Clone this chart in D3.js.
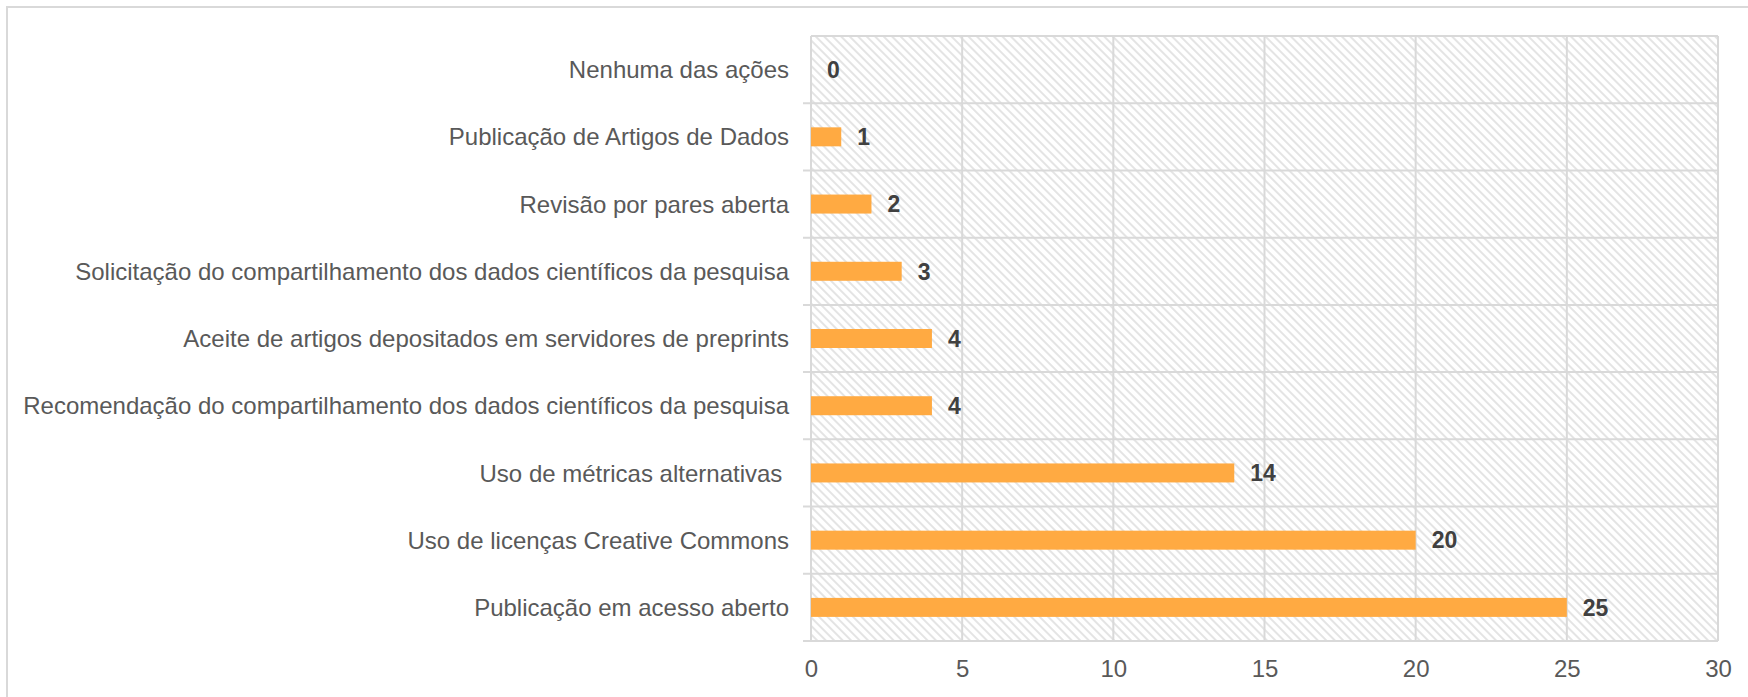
<!DOCTYPE html>
<html>
<head>
<meta charset="utf-8">
<script src="https://cdn.jsdelivr.net/npm/d3@7"></script>
<style>
  body { margin: 0; background: #fff; }
  svg { display: block; font-family: "Liberation Sans", Arial, sans-serif; }
  text { white-space: pre; }
</style>
</head>
<body>
<svg id="grafico"></svg>
<script>
const categorias = [
  'Nenhuma das ações',
  'Publicação de Artigos de Dados',
  'Revisão por pares aberta',
  'Solicitação do compartilhamento dos dados científicos da pesquisa',
  'Aceite de artigos depositados em servidores de preprints',
  'Recomendação do compartilhamento dos dados científicos da pesquisa',
  'Uso de métricas alternativas ',
  'Uso de licenças Creative Commons',
  'Publicação em acesso aberto'
];
const valores = [0, 1, 2, 3, 4, 4, 14, 20, 25];
const ticksX = [0, 5, 10, 15, 20, 25, 30];

const largura = 1748, altura = 697;
const margem = { esquerda: 811, direita: 30, superior: 36, inferior: 56 };
const larguraPlotagem = largura - margem.esquerda - margem.direita;
const alturaPlotagem = altura - margem.superior - margem.inferior;
const cinza = '#d9d9d9';
const fonte = '"Liberation Sans", Arial, sans-serif';

const svg = d3.select('#grafico').attr('width', largura).attr('height', altura);

// listras diagonais do fundo
const padrao = svg.append('defs').append('pattern')
  .attr('id', 'listras')
  .attr('patternUnits', 'userSpaceOnUse')
  .attr('width', 6).attr('height', 6)
  .attr('patternTransform', 'rotate(45)');
padrao.append('rect').attr('width', 6).attr('height', 6).attr('fill', '#fff');
padrao.append('line')
  .attr('x1', 0).attr('y1', 3).attr('x2', 6).attr('y2', 3)
  .attr('stroke', '#dedede').attr('stroke-width', 1.6);

// borda externa
svg.append('rect')
  .attr('x', 7).attr('y', 7)
  .attr('width', largura).attr('height', altura)
  .attr('fill', 'none').attr('stroke', cinza).attr('stroke-width', 2);

const plotagem = svg.append('g').attr('transform', `translate(${margem.esquerda}, ${margem.superior})`);

const x = d3.scaleLinear().domain([0, 30]).range([0, larguraPlotagem]);
const y = d3.scaleBand().domain(categorias).range([0, alturaPlotagem]);

plotagem.append('rect')
  .attr('width', larguraPlotagem).attr('height', alturaPlotagem)
  .attr('fill', 'url(#listras)');

// grade vertical
plotagem.append('g')
  .selectAll('line')
  .data(ticksX)
  .enter()
  .append('line')
  .attr('x1', d => x(d)).attr('x2', d => x(d))
  .attr('y1', 0).attr('y2', alturaPlotagem)
  .attr('stroke', cinza).attr('stroke-width', 2);

// linhas entre categorias (com marca para fora)
const limites = categorias.map(c => y(c)).concat([alturaPlotagem]);
plotagem.append('g')
  .selectAll('line')
  .data(limites)
  .enter()
  .append('line')
  .attr('x1', (d, i) => i === 0 ? 0 : -8).attr('x2', larguraPlotagem)
  .attr('y1', d => d).attr('y2', d => d)
  .attr('stroke', cinza).attr('stroke-width', 2);

// eixo x
const eixoX = d3.axisBottom(x).tickValues(ticksX).tickSize(0).tickPadding(19);
const gX = plotagem.append('g')
  .attr('transform', 'translate(0, ' + alturaPlotagem + ')')
  .call(eixoX);
gX.select('.domain').remove();
gX.selectAll('text')
  .attr('fill', '#595959')
  .style('font-size', '24px')
  .style('font-family', fonte);

// eixo y
const eixoY = d3.axisLeft(y).tickSize(0).tickPadding(22);
const gY = plotagem.append('g').call(eixoY);
gY.select('.domain').remove();
gY.selectAll('text')
  .attr('dy', '0.36em')
  .attr('fill', '#595959')
  .style('font-size', '24px')
  .style('font-family', fonte);

const espessura = 19;
const dados = categorias.map((c, i) => ({ chave: c, valor: valores[i] }));

plotagem.selectAll('.barra')
  .data(dados)
  .enter()
  .append('rect')
  .classed('barra', true)
  .attr('x', 0)
  .attr('y', d => y(d.chave) + y.bandwidth() / 2 - espessura / 2)
  .attr('width', d => x(d.valor))
  .attr('height', espessura)
  .attr('fill', '#ffaa42');

plotagem.selectAll('.rotulo')
  .data(dados)
  .enter()
  .append('text')
  .classed('rotulo', true)
  .text(d => d.valor)
  .attr('x', d => x(d.valor) + 16)
  .attr('y', d => y(d.chave) + y.bandwidth() / 2)
  .attr('dy', '0.36em')
  .attr('fill', '#404040')
  .style('font-size', '23px')
  .style('font-weight', 'bold');
</script>
</body>
</html>
